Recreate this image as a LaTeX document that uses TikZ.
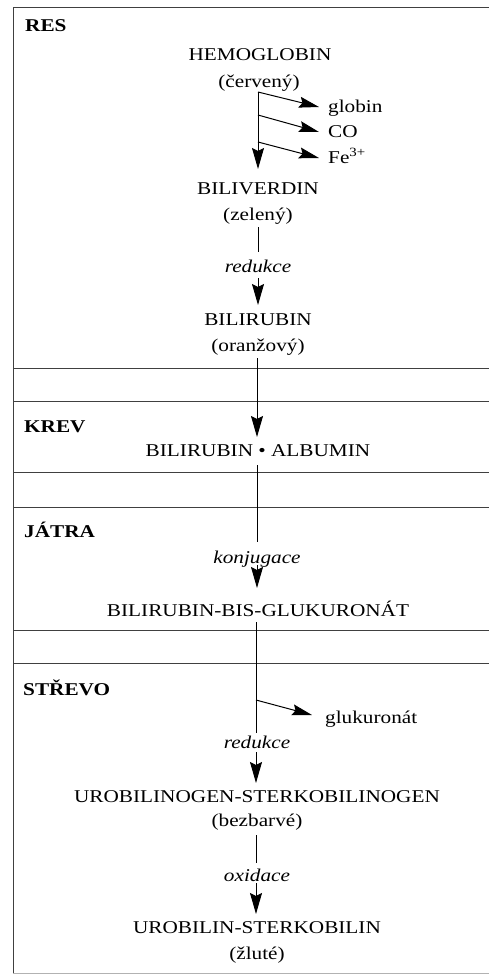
\documentclass[tikz,border=0pt]{standalone}
\usepackage{fontspec}
\setmainfont[FakeStretch=1.18]{Liberation Serif}
\usetikzlibrary{arrows.meta}
\begin{document}
\begin{tikzpicture}[x=1pt,y=-1pt,
  txt/.style={font=\fontsize{18}{22}\selectfont, inner sep=0pt, anchor=base},
  lbl/.style={txt, font=\fontsize{18}{22}\selectfont\bfseries, anchor=base west},
  proc/.style={txt, font=\fontsize{18}{22}\selectfont\itshape},
  side/.style={txt, anchor=base west},
  conn/.style={line width=1pt},
  arr/.style={conn, -{Stealth[length=21pt,width=12pt,inset=3pt]}},
  barr/.style={conn, -{Stealth[length=20pt,width=11pt,inset=3pt]}},
  rulel/.style={line width=0.9pt, black!75}
]
\useasboundingbox (0,0) rectangle (489,975);
\fill[white] (0,0) rectangle (489,975);

% frame and section rules
\draw[rulel] (489,7) -- (13,7) -- (13,973);
\draw[line width=0.6pt, black!30] (13,973) -- (489,973);
\foreach \yy in {368,401,472,507,630,663}
  \draw[rulel] (13,\yy) -- (489,\yy);

% section labels
\node[lbl] (res)   at (25,31)  {RES};
\node[lbl] (krev)  at (24,432) {KREV};
\node[lbl] (jatra) at (24,537) {JÁTRA};
\node[lbl] (strevo) at (23,695) {STŘEVO};

% RES
\node[txt] (hemo)  at (260,60)  {HEMOGLOBIN};
\node[txt] (hemoc) at (259,87)  {(červený)};
\node[side] (glob) at (328,112) {globin};
\node[side] (co)   at (328,137) {CO};
\node[side] (fe)   at (328,163) {Fe\textsuperscript{3+}};
\node[txt] (bv)    at (258,194) {BILIVERDIN};
\node[txt] (bvc)   at (258,220) {(zelený)};
\node[proc] (red1) at (258,272) {redukce};
\node[txt] (br)    at (258,325) {BILIRUBIN};
\node[txt] (brc)   at (258,351) {(oranžový)};

% KREV
\node[txt] (alb)   at (258,456) {BILIRUBIN • ALBUMIN};

% JATRA
\node[proc] (konj) at (257,563) {konjugace};
\node[txt] (bis)   at (258,616) {BILIRUBIN-BIS-GLUKURONÁT};

% STREVO
\node[side] (gluk) at (325,723) {glukuronát};
\node[proc] (red2) at (257,748) {redukce};
\node[txt] (ubg)   at (257,802) {UROBILINOGEN-STERKOBILINOGEN};
\node[txt] (ubgc)  at (257,826) {(bezbarvé)};
\node[proc] (oxi)  at (257,881) {oxidace};
\node[txt] (ub)    at (257,933) {UROBILIN-STERKOBILIN};
\node[txt] (ubc)   at (257,959) {(žluté)};

% connector points
\coordinate (a0) at (258,92);
\coordinate (a1) at (258,169);
\coordinate (b1) at (258,115);
\coordinate (b2) at (258,142);
\coordinate (g1) at (319,107);
\coordinate (g2) at (319,132);
\coordinate (g3) at (319,158);
\coordinate (c0) at (258,227);
\coordinate (c1) at (258,252);
\coordinate (c2) at (258,278);
\coordinate (c3) at (258,305);
\coordinate (d0) at (257,358);
\coordinate (d1) at (257,437);
\coordinate (e0) at (257,465);
\coordinate (e1) at (257,542);
\coordinate (e2) at (257,565);
\coordinate (e3) at (257,588);
\coordinate (f0) at (256,622);
\coordinate (f1) at (256,733);
\coordinate (fb) at (256,700);
\coordinate (f2) at (312,715);
\coordinate (f3) at (256,752);
\coordinate (f4) at (256,783);
\coordinate (h0) at (256,835);
\coordinate (h1) at (256,863);
\coordinate (h2) at (256,883);
\coordinate (h3) at (256,914);

% RES connectors
\draw[arr] (a0) -- (a1);
\draw[barr] (a0) -- (g1);
\draw[barr] (b1) -- (g2);
\draw[barr] (b2) -- (g3);
\draw[conn] (c0) -- (c1);
\draw[arr] (c2) -- (c3);
% to blood
\draw[arr] (d0) -- (d1);
% to liver
\draw[conn] (e0) -- (e1);
\draw[arr] (e2) -- (e3);
% intestine
\draw[conn] (f0) -- (f1);
\draw[barr] (fb) -- (f2);
\draw[arr] (f3) -- (f4);
\draw[conn] (h0) -- (h1);
\draw[arr] (h2) -- (h3);
\end{tikzpicture}
\end{document}
